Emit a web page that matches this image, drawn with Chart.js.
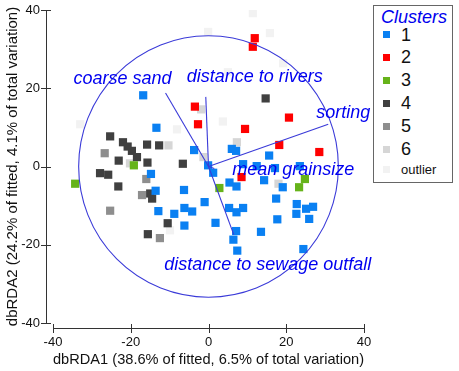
<!DOCTYPE html>
<html>
<head>
<meta charset="utf-8">
<script src="https://cdn.jsdelivr.net/npm/chart.js@4.4.1/dist/chart.umd.min.js"></script>
<style>
  body { margin: 0; background: #fff; }
  #wrap { position: relative; width: 459px; height: 371px; }
  #legend {
    position: absolute; left: 373px; top: 5px; width: 80px; height: 178px;
    border: 1px solid #666; box-sizing: border-box; background: #fff;
    font-family: "Liberation Sans", Arial, sans-serif; color: #111;
  }
  #legend .title { position: absolute; left: 7px; top: 0px; font-size: 18px; font-style: italic; color: #0000ee; line-height: 22px; }
  #legend .row { position: absolute; left: 0; height: 20px; line-height: 20px; }
  #legend .sw { position: absolute; left: 9px; top: 6.5px; width: 7px; height: 7px; }
  #legend .lab { position: absolute; left: 27px; top: 0; font-size: 18px; white-space: nowrap; }
</style>
</head>
<body>
<div id="wrap">
  <canvas id="rda" width="459" height="371"></canvas>
  <div id="legend"></div>
</div>
<script>
// cluster membership, [dbRDA1, dbRDA2]
const cluster1 = [[-16.8,18.2],[-13.4,9.9],[-3.7,4.2],[6.0,4.5],[7.1,4.0],[15.6,2.8],[-0.1,0.3],[1.2,-1.6],
  [8.9,0.6],[12.4,0.1],[17.1,-0.4],[23.5,0.1],[-14.8,-1.9],[-13.6,-6.2],[-12.9,-11.4],[-8.8,-12.1],
  [-6.3,-6.0],[-6.2,-10.6],[-4.2,-11.5],[-1.0,-9.1],[-6.2,-15.1],[1.8,-14.4],[5.4,-4.1],[7.2,-5.1],
  [5.3,-10.6],[7.2,-11.7],[8.9,-10.6],[7.1,-16.5],[6.4,-18.7],[7.4,-21.5],[14.3,-3.5],[19.1,-5.3],
  [17.4,-8.2],[17.7,-13.5],[13.5,-16.7],[22.7,-9.6],[22.6,-12.1],[25.1,-10.8],[26.9,-10.3],[25.9,-13.4],[24.4,-21.1]];
const cluster2 = [[11.9,32.8],[11.4,30.6],[-3.5,15.3],[-2.7,10.8],[9.4,9.6],[20.7,12.5],[18.2,5.5],[28.5,3.7],[8.5,-2.7]];
const cluster3 = [[-34.3,-4.4],[-19.2,0.3],[2.8,-5.5],[23.3,-5.3],[24.8,-3.2]];
const cluster4 = [[-25.3,7.7],[-22.0,6.2],[-20.8,5.1],[-19.7,4.0],[-18.4,2.4],[-15.8,5.6],[-12.7,5.4],[-23.1,1.5],
  [-15.7,1.0],[-6.6,0.7],[-27.9,-1.7],[-25.8,-2.1],[-23.2,-5.1],[-15.0,-6.9],[-14.5,-8.2],[-10.5,-14.5],[-15.6,-17.3],[14.7,17.4]];
const cluster5 = [[-26.7,3.4],[-16.0,-3.2],[-17.1,-7.3],[-25.3,-11.3],[-12.5,-18.3]];
const cluster6 = [[-20.2,0.8],[-1.3,2.4],[7.3,6.2],[18.0,-4.4],[-1.9,14.6],[-10.3,5.4]];
const outliers = [[11.4,39.2],[15.8,34.1],[-0.1,34.4],[5.0,24.1],[19.2,26.4],[3.7,11.5],[-8.1,9.5],[-33.0,10.8],[-9.9,-16.3]];

const clusterNames = ["1", "2", "3", "4", "5", "6", "outlier"];
const clusterColors = ["#0a80f2", "#ff0000", "#66b31a", "#404040", "#8e8e8e", "#d6d6d6", "#f2f2f2"];

// environmental vectors (biplot)
const vectorNames = ["coarse sand", "distance to rivers", "sorting", "mean grainsize", "distance to sewage outfall"];
const vectorX = [-11.05, -0.7, 30.8, 1.5, 6.5];
const vectorY = [18.8, 17.8, 10.8, -0.5, -17.4];
const circleRadius = 33.4;

const xTitle = "dbRDA1 (38.6% of fitted, 6.5% of total variation)";
const yTitle = "dbRDA2 (24.2% of fitted, 4.1% of total variation)";
const axisTicks = [-40, -20, 0, 20, 40];

const FONT = '"Liberation Sans", Arial, sans-serif';

// label offsets in px from vector tips
const labelOffsets = [[-43, -14], [49, -20], [15, -11], [79, 2], [34, 30]];

const biplot = {
  id: "biplot",
  afterDatasetsDraw(chart) {
    const { ctx, scales: { x, y } } = chart;
    const x0 = x.getPixelForValue(0), y0 = y.getPixelForValue(0);
    ctx.save();
    ctx.strokeStyle = "#3a3ad8";
    ctx.lineWidth = 1.1;
    ctx.beginPath();
    ctx.ellipse(x0, y0, x.getPixelForValue(circleRadius) - x0, y0 - y.getPixelForValue(circleRadius), 0, 0, Math.PI * 2);
    ctx.stroke();
    ctx.font = "italic 18px " + FONT;
    ctx.fillStyle = "#0000f0";
    ctx.textAlign = "center";
    ctx.textBaseline = "middle";
    vectorNames.forEach((name, i) => {
      const px = x.getPixelForValue(vectorX[i]), py = y.getPixelForValue(vectorY[i]);
      ctx.beginPath();
      ctx.moveTo(x0, y0);
      ctx.lineTo(px, py);
      ctx.stroke();
      ctx.fillText(name, px + labelOffsets[i][0], py + labelOffsets[i][1]);
    });
    ctx.restore();
  },
  afterDraw(chart) {
    // detached axes with ticks crossing the line
    const { ctx, chartArea, scales: { x, y } } = chart;
    const ax = chartArea.left - 7, ay = chartArea.bottom + 5;
    ctx.save();
    ctx.strokeStyle = "#333";
    ctx.lineWidth = 1;
    ctx.beginPath();
    ctx.moveTo(ax + 0.5, y.getPixelForValue(40));
    ctx.lineTo(ax + 0.5, y.getPixelForValue(-40));
    ctx.moveTo(x.getPixelForValue(-40), ay + 0.5);
    ctx.lineTo(x.getPixelForValue(40), ay + 0.5);
    axisTicks.forEach(t => {
      const py = Math.round(y.getPixelForValue(t)) + 0.5;
      ctx.moveTo(ax - 5, py); ctx.lineTo(ax + 5, py);
      const px = Math.round(x.getPixelForValue(t)) + 0.5;
      ctx.moveTo(px, ay - 4); ctx.lineTo(px, ay + 5);
    });
    ctx.stroke();
    ctx.restore();
  }
};

const toPts = arr => arr.map(p => ({ x: p[0], y: p[1] }));
const groups = [cluster1, cluster2, cluster3, cluster4, cluster5, cluster6, outliers];

new Chart(document.getElementById("rda"), {
  type: "scatter",
  data: {
    datasets: groups.map((g, i) => ({
      label: clusterNames[i],
      data: toPts(g),
      pointStyle: "rect",
      pointRadius: 5.8,
      pointHoverRadius: 5.8,
      borderWidth: 0,
      backgroundColor: clusterColors[i],
      borderColor: clusterColors[i]
    }))
  },
  options: {
    responsive: false,
    animation: false,
    events: [],
    layout: { padding: { top: 0, right: 95, left: 0, bottom: 0 } },
    plugins: { legend: { display: false }, tooltip: { enabled: false } },
    scales: {
      x: {
        min: -40, max: 40,
        border: { display: false },
        grid: { display: false, drawTicks: false },
        ticks: { stepSize: 20, padding: 12, color: "#111", font: { family: FONT, size: 13 }, maxRotation: 0 },
        title: { display: true, text: xTitle, color: "#111", font: { family: FONT, size: 15 }, padding: { top: 0, bottom: 2 } },
        afterFit: s => { s.height = 48; }
      },
      y: {
        min: -40, max: 40,
        border: { display: false },
        grid: { display: false, drawTicks: false },
        ticks: { stepSize: 20, padding: 13, color: "#111", font: { family: FONT, size: 13 } },
        title: { display: true, text: yTitle, color: "#111", font: { family: FONT, size: 15 }, padding: { top: 4, bottom: 0 } },
        afterFit: s => { s.width = 53; s.paddingTop = 10; s.paddingBottom = 0; }
      }
    }
  },
  plugins: [biplot]
});

// legend box
const legend = document.getElementById("legend");
legend.innerHTML = '<div class="title">Clusters</div>';
clusterNames.forEach((name, i) => {
  const center = i < 6 ? 34.5 + i * 22.9 : 169.5;
  const row = document.createElement("div");
  row.className = "row";
  row.style.top = (center - 5 - 1 - 10) + "px";
  row.innerHTML = '<div class="sw" style="background:' + clusterColors[i] + '"></div>' +
    '<div class="lab"' + (i === 6 ? ' style="font-size:13px"' : "") + ">" + name + "</div>";
  legend.appendChild(row);
});
</script>
</body>
</html>
